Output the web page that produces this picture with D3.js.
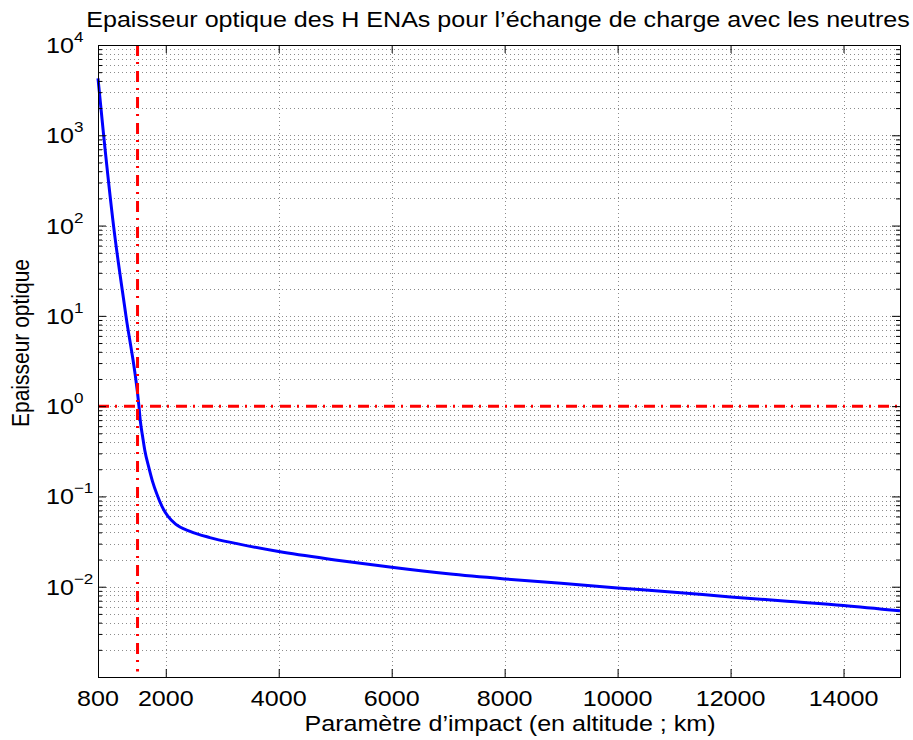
<!DOCTYPE html>
<html>
<head>
<meta charset="utf-8">
<script src="https://cdn.jsdelivr.net/npm/d3@7"></script>
<style>
  body { margin: 0; background: #fff; }
  text { font-family: "Liberation Sans", Arial, sans-serif; fill: #000; }
</style>
</head>
<body>
<div id="chart"></div>
<script>
// Data
var altitude = [800, 900, 1075, 1295, 1525, 1550, 1590, 1630, 1695, 1765, 1845, 1935, 2040, 2180, 2430, 2780, 3260,
                4000, 5000, 6000, 7000, 8000, 9000, 10000, 11000, 12000, 13000, 14000, 15000];
var opticalDepth = [4260, 1000, 100, 10, 1, 0.68, 0.46, 0.32, 0.215, 0.147, 0.105, 0.077, 0.06, 0.049, 0.041, 0.035, 0.030,
                    0.0245, 0.0198, 0.0164, 0.0139, 0.0122, 0.0109, 0.0097, 0.0087, 0.0077, 0.0069, 0.0062, 0.0054];
var xTicks = [800, 2000, 4000, 6000, 8000, 10000, 12000, 14000];
var yExponents = [-2, -1, 0, 1, 2, 3, 4];
var cutoffAltitude = 1500;
var unitDepth = 1;
var titleText = 'Epaisseur optique des H ENAs pour l\u2019\u00e9change de charge avec les neutres';
var xLabelText = 'Param\u00e8tre d\u2019impact (en altitude ; km)';
var yLabelText = 'Epaisseur optique';

// Layout
var W = 913, H = 740,
    margin = {top: 45, right: 13, bottom: 63, left: 98},
    width = W - margin.left - margin.right,
    height = H - margin.top - margin.bottom,
    fontSize = 22,
    stretch = 1.14;

var x = d3.scaleLinear().domain([800, 15000]).range([0, width]);
var y = d3.scaleLog().domain([1e-3, 1e4]).range([height, 0]);

// Minor log ticks
var minorY = [];
for (var e = -3; e < 4; e++) {
    for (var k = 2; k < 10; k++) minorY.push(k * Math.pow(10, e));
}
var majorY = yExponents.map(function(p) { return Math.pow(10, p); });

var svg = d3.select('#chart').append('svg')
    .attr('width', W).attr('height', H);
var chart = svg.append('g')
    .attr('transform', 'translate(' + margin.left + ',' + margin.top + ')');

// Grid (dotted)
var grid = chart.append('g')
    .attr('stroke', '#000').attr('stroke-opacity', 0.45)
    .attr('stroke-width', 1).attr('stroke-dasharray', '1,3');
grid.selectAll('.vgrid')
    .data(xTicks.filter(function(d) { return d > 800; }))
    .enter().append('line')
    .attr('x1', function(d) { return Math.round(x(d)) + 0.5; })
    .attr('x2', function(d) { return Math.round(x(d)) + 0.5; })
    .attr('y1', 0).attr('y2', height);
grid.selectAll('.hgrid')
    .data(majorY.concat(minorY).filter(function(d) { return d < 9999; }))
    .enter().append('line')
    .attr('y1', function(d) { return Math.round(y(d)) + 0.5; })
    .attr('y2', function(d) { return Math.round(y(d)) + 0.5; })
    .attr('x1', 0).attr('x2', width);

// Curve
var data = altitude.map(function(a, i) { return {alt: a, tau: opticalDepth[i]}; });
var line = d3.line()
    .curve(d3.curveMonotoneX)
    .x(function(d) { return x(d.alt); })
    .y(function(d) { return y(d.tau); });
chart.append('path')
    .attr('d', line(data))
    .attr('fill', 'none')
    .attr('stroke', '#0000ff')
    .attr('stroke-width', 3);

// Red dash-dot reference lines
var refLine = d3.line()
    .x(function(d) { return x(d[0]); })
    .y(function(d) { return y(d[1]); });
chart.append('path')
    .attr('d', refLine([[800, unitDepth], [15000, unitDepth]]))
    .attr('fill', 'none').attr('stroke', '#ff0000')
    .attr('stroke-width', 3).attr('stroke-dasharray', '11,6,2,7');
chart.append('path')
    .attr('d', refLine([[cutoffAltitude, 1e4], [cutoffAltitude, 1.15e-3]]))
    .attr('fill', 'none').attr('stroke', '#ff0000')
    .attr('stroke-width', 3).attr('stroke-dasharray', '11,6,2,7');

// Axes (inward ticks)
function tidy(g) {
    g.select('.domain').remove();
    g.selectAll('text').remove();
    g.selectAll('line').attr('stroke', '#000');
}
chart.append('g').attr('transform', 'translate(0,' + height + ')')
    .call(d3.axisBottom(x).tickValues(xTicks).tickSize(-8)).call(tidy);
chart.append('g')
    .call(d3.axisTop(x).tickValues(xTicks).tickSize(-8)).call(tidy);
chart.append('g')
    .call(d3.axisLeft(y).tickValues(majorY).tickSize(-8)).call(tidy);
chart.append('g')
    .call(d3.axisLeft(y).tickValues(minorY).tickSize(-4)).call(tidy);
chart.append('g').attr('transform', 'translate(' + width + ',0)')
    .call(d3.axisRight(y).tickValues(majorY).tickSize(-8)).call(tidy);
chart.append('g').attr('transform', 'translate(' + width + ',0)')
    .call(d3.axisRight(y).tickValues(minorY).tickSize(-4)).call(tidy);

// Box
chart.append('rect')
    .attr('x', 0.5).attr('y', 0.5)
    .attr('width', width).attr('height', height)
    .attr('fill', 'none').attr('stroke', '#000').attr('stroke-width', 1);

// X tick labels
chart.selectAll('.xlab')
    .data(xTicks)
    .enter().append('text')
    .attr('transform', function(d) { return 'translate(' + x(d) + ',' + (height + 29) + ') scale(' + stretch + ',1)'; })
    .attr('text-anchor', 'middle')
    .style('font-size', fontSize + 'px')
    .text(function(d) { return d; });

// Y tick labels 10^n
var ylab = chart.selectAll('.ylab')
    .data(yExponents)
    .enter().append('text')
    .attr('transform', function(d) { return 'translate(' + (46 - margin.left) + ',' + (y(Math.pow(10, d)) + 8) + ') scale(' + stretch + ',1)'; })
    .style('font-size', fontSize + 'px');
ylab.append('tspan').text('10');
ylab.append('tspan')
    .attr('dy', -11)
    .style('font-size', '15px')
    .text(function(d) { return d < 0 ? '\u2212' + (-d) : d; });

// Title and axis labels
svg.append('text')
    .attr('transform', 'translate(' + 498 + ',27) scale(' + stretch + ',1)')
    .attr('text-anchor', 'middle')
    .style('font-size', fontSize + 'px')
    .text(titleText);
svg.append('text')
    .attr('transform', 'translate(' + 510 + ',731) scale(' + stretch + ',1)')
    .attr('text-anchor', 'middle')
    .style('font-size', fontSize + 'px')
    .text(xLabelText);
svg.append('text')
    .attr('transform', 'translate(29,343) rotate(-90) scale(1,' + stretch + ')')
    .attr('text-anchor', 'middle')
    .style('font-size', '21px')
    .text(yLabelText);
</script>
</body>
</html>
